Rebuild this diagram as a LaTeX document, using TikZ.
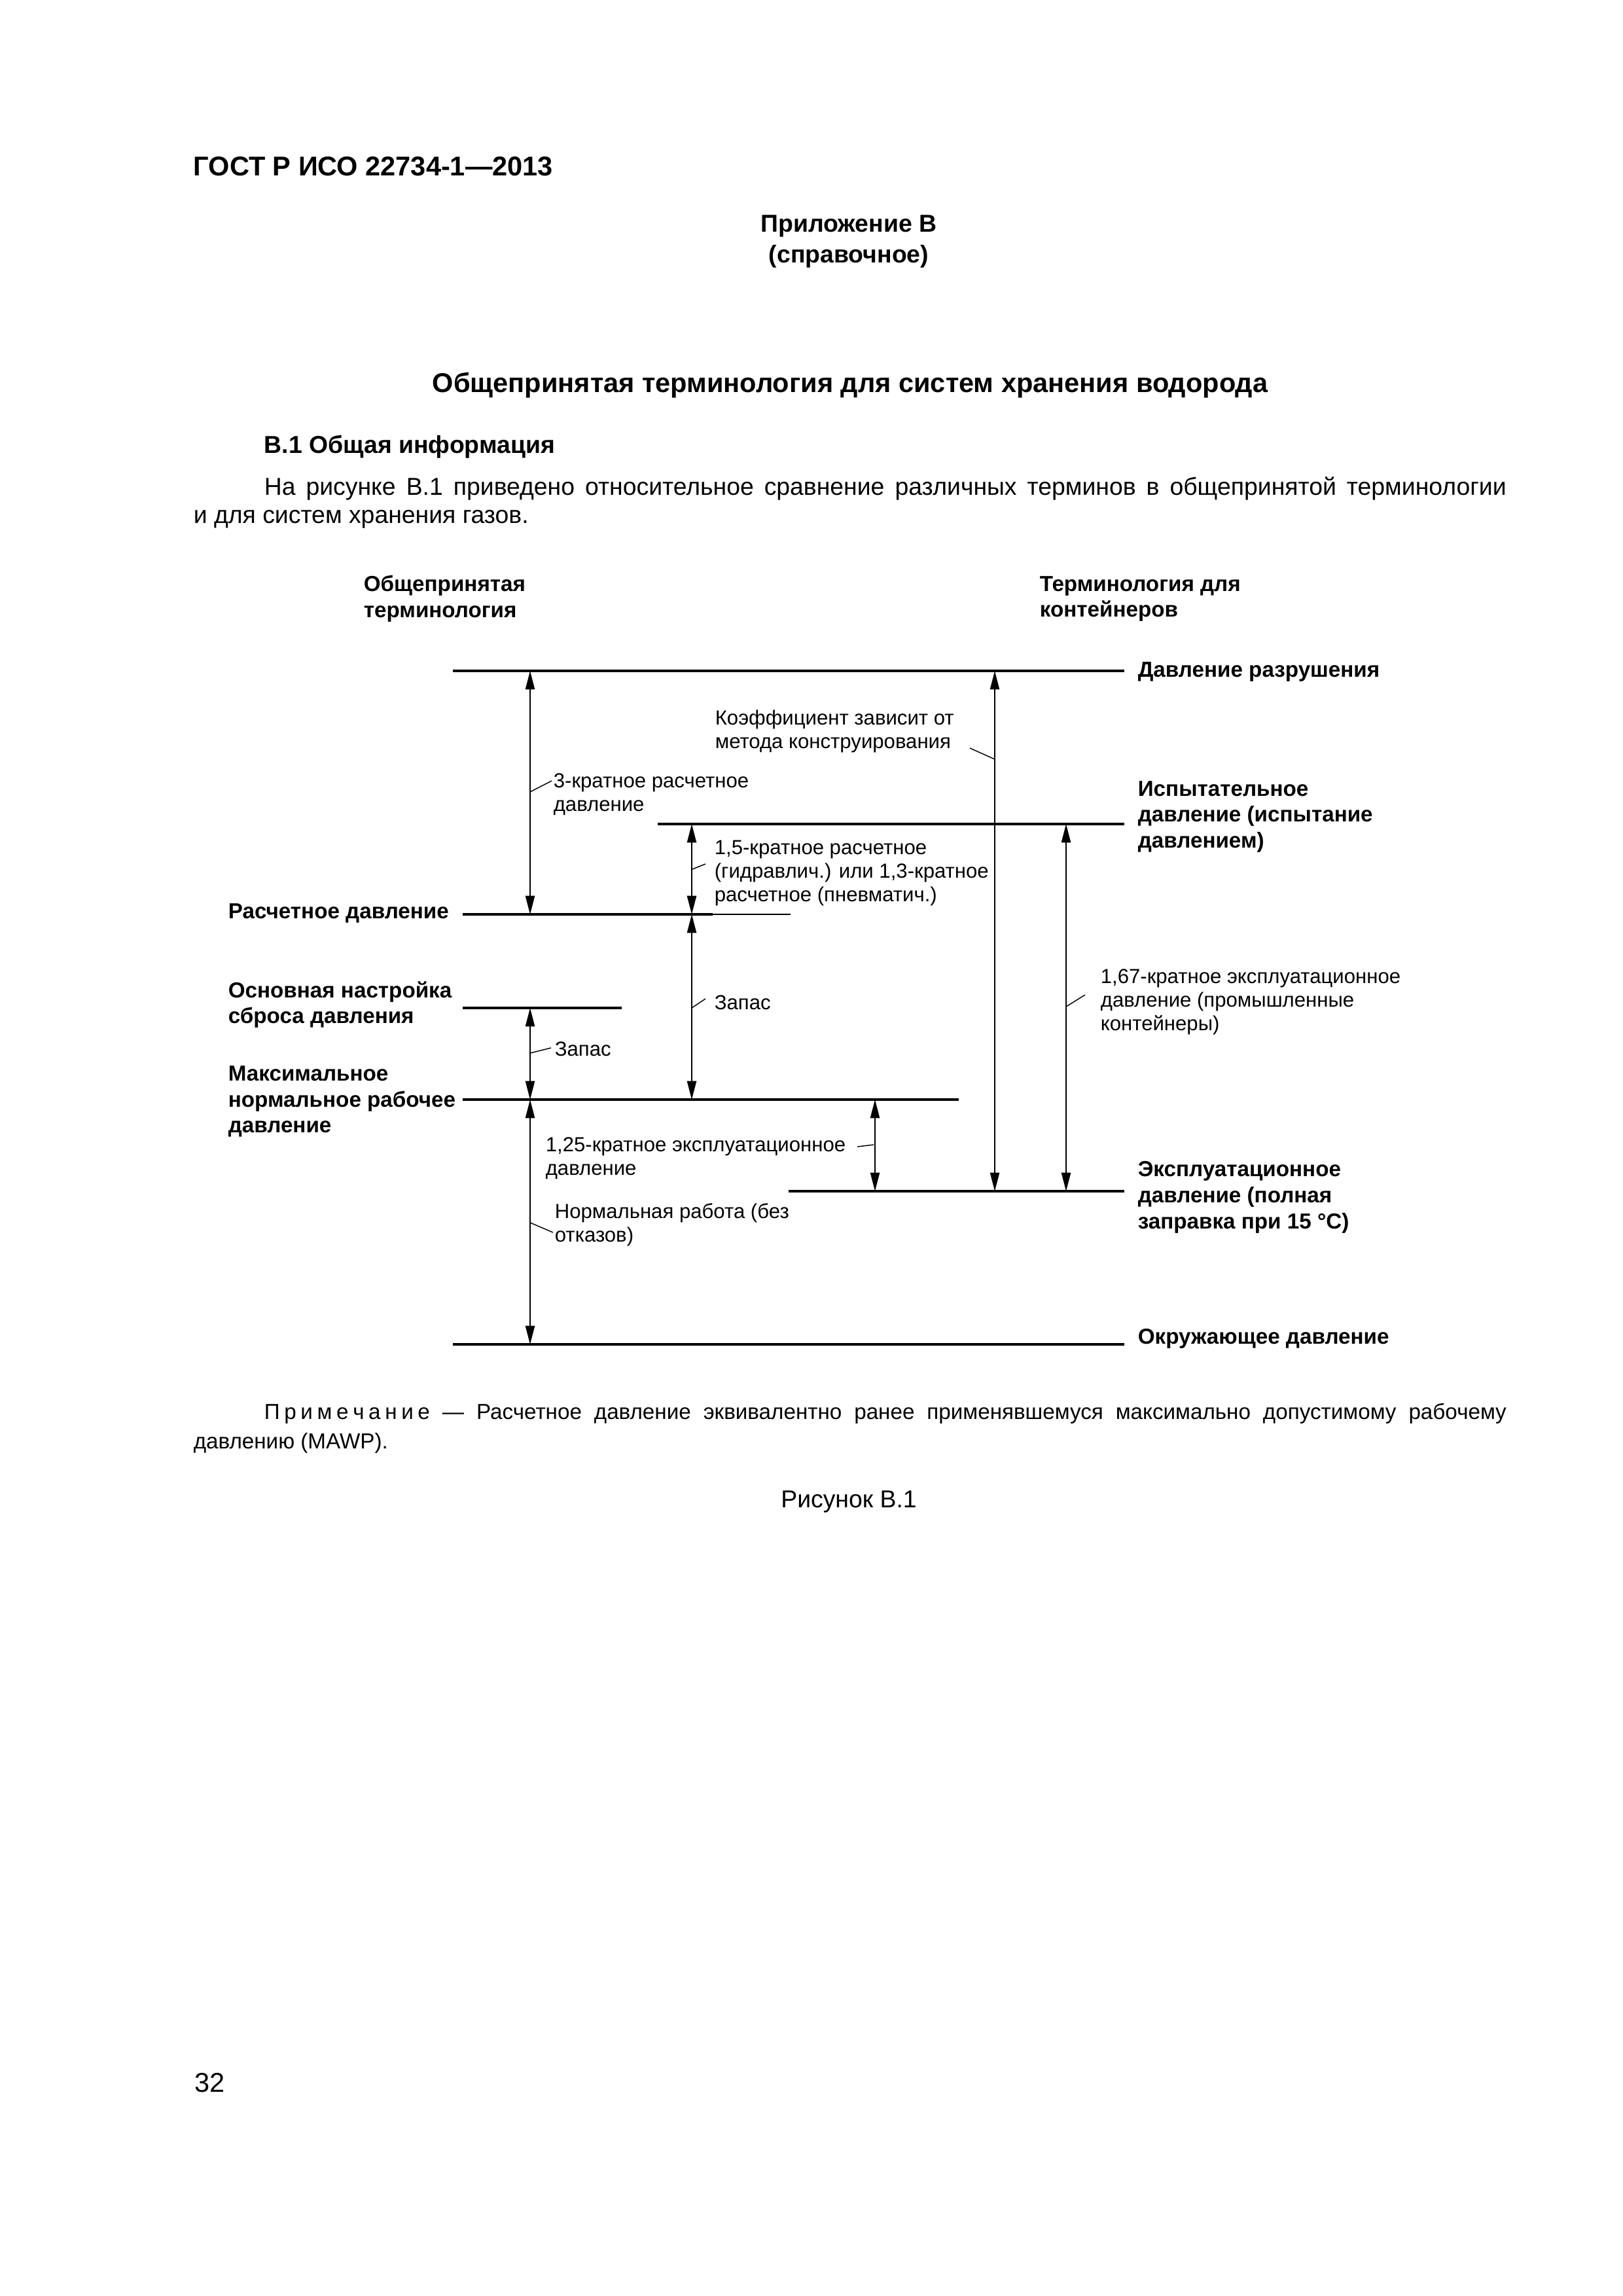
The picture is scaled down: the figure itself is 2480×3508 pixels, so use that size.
\documentclass[tikz,border=0pt]{standalone}
\usepackage{fontspec}
\setmainfont{Liberation Sans}
\usetikzlibrary{arrows.meta}
\newlength{\parawidth}
\setlength{\parawidth}{160.7mm}
\begin{document}
\begin{tikzpicture}[x=0.084677mm,y=-0.084677mm,
  lvl/.style={line width=1.1pt},
  lvlthin/.style={line width=0.6pt},
  dimarrow/.style={line width=0.45pt,{Triangle[length=2.4mm,width=1.2mm]}-{Triangle[length=2.4mm,width=1.2mm]}},
  lead/.style={line width=0.35pt},
  bl/.style={font=\fontsize{8}{9.6}\selectfont\bfseries, align=left, inner sep=0pt, anchor=west},
  sm/.style={font=\fontsize{7.5}{8.7}\selectfont, align=left, inner sep=0pt, anchor=west},
  body/.style={font=\fontsize{9}{11.3}\selectfont, inner sep=0pt},
  bodyb/.style={font=\fontsize{9}{11.3}\selectfont\bfseries, inner sep=0pt},
  ttl/.style={font=\fontsize{10}{12}\selectfont\bfseries, inner sep=0pt},
  notef/.style={font=\fontsize{8}{10}\selectfont, inner sep=0pt, anchor=west}]
\useasboundingbox[fill=white] (0,0) rectangle (2480,3508);

% page texts
\node[ttl, anchor=west] (hdr) at (295,254) {ГОСТ Р ИСО 22734-1—2013};
\node[bodyb, align=center] (app) at (1297,369) {Приложение В\\(справочное)};
\node[ttl] (title) at (1299,589) {Общепринятая терминология для систем хранения водорода};
\node[bodyb, anchor=west] (sec) at (403,683) {В.1 Общая информация};
\node[body, anchor=west] (par1) at (403,747) {\makebox[\parawidth][s]{На рисунке В.1 приведено относительное сравнение различных терминов в общепринятой терминологии}};
\node[body, anchor=west] (par2) at (295,793) {и для систем хранения газов.};

% column headings
\node[bl] (hl) at (555,915) {Общепринятая\\терминология};
\node[bl] (hr) at (1588,915) {Терминология для\\контейнеров};

% level coordinates
\coordinate (l1a) at (692,1025);  \coordinate (l1b) at (1718,1025);
\coordinate (l2a) at (1005,1259); \coordinate (l2b) at (1718,1259);
\coordinate (l3a) at (707,1397);  \coordinate (l3m) at (1089,1397); \coordinate (l3b) at (1208,1397);
\coordinate (l4a) at (707,1540);  \coordinate (l4b) at (950,1540);
\coordinate (l5a) at (707,1680);  \coordinate (l5b) at (1465,1680);
\coordinate (l6a) at (1205,1820); \coordinate (l6b) at (1718,1820);
\coordinate (l7a) at (692,2054);  \coordinate (l7b) at (1718,2054);

\draw[lvl] (l1a) -- (l1b);
\draw[lvl] (l2a) -- (l2b);
\draw[lvl] (l3a) -- (l3m);
\draw[lvlthin] (l3m) -- (l3b);
\draw[lvl] (l4a) -- (l4b);
\draw[lvl] (l5a) -- (l5b);
\draw[lvl] (l6a) -- (l6b);
\draw[lvl] (l7a) -- (l7b);

% level labels
\node[bl] (burst) at (1738,1027) {Давление разрушения};
\node[bl] (test) at (1738,1248) {Испытательное\\давление (испытание\\давлением)};
\node[bl] (design) at (348,1395) {Расчетное давление};
\node[bl] (relief) at (348,1535) {Основная настройка\\сброса давления};
\node[bl] (mnop) at (348,1683) {Максимальное\\нормальное рабочее\\давление};
\node[bl] (service) at (1738,1829) {Эксплуатационное\\давление (полная\\заправка при 15 °C)};
\node[bl] (ambient) at (1738,2045) {Окружающее давление};

% arrow coordinates
\coordinate (a1t) at (810,1025); \coordinate (a1b) at (810,1397);
\coordinate (a2t) at (1057,1259); \coordinate (a2b) at (1057,1397);
\coordinate (a3t) at (1057,1397); \coordinate (a3b) at (1057,1680);
\coordinate (a4t) at (810,1540); \coordinate (a4b) at (810,1680);
\coordinate (a5t) at (810,1680); \coordinate (a5b) at (810,2054);
\coordinate (a6t) at (1337,1680); \coordinate (a6b) at (1337,1820);
\coordinate (a7t) at (1520,1025); \coordinate (a7b) at (1520,1820);
\coordinate (a8t) at (1629,1259); \coordinate (a8b) at (1629,1820);

\draw[dimarrow] (a1t) -- (a1b);
\draw[dimarrow] (a2t) -- (a2b);
\draw[dimarrow] (a3t) -- (a3b);
\draw[dimarrow] (a4t) -- (a4b);
\draw[dimarrow] (a5t) -- (a5b);
\draw[dimarrow] (a6t) -- (a6b);
\draw[dimarrow] (a7t) -- (a7b);
\draw[dimarrow] (a8t) -- (a8b);

% small labels and leaders
\node[sm] (lab3x) at (845,1214) {3-кратное расчетное\\давление};
\coordinate (p1a) at (810,1210); \coordinate (p1b) at (843,1193);
\draw[lead] (p1a) -- (p1b);

\node[sm] (labkoef) at (1092,1117) {Коэффициент зависит от\\метода конструирования};
\coordinate (p2a) at (1482,1143); \coordinate (p2b) at (1520,1160);
\draw[lead] (p2a) -- (p2b);

\node[sm] (lab15) at (1091,1334) {1,5-кратное расчетное\\(гидравлич.) или 1,3-кратное\\расчетное (пневматич.)};
\coordinate (p3a) at (1058,1328); \coordinate (p3b) at (1078,1320);
\draw[lead] (p3a) -- (p3b);

\node[sm] (labzap1) at (1091,1532) {Запас};
\coordinate (p4a) at (1057,1540); \coordinate (p4b) at (1078,1526);
\draw[lead] (p4a) -- (p4b);

\node[sm] (labzap2) at (847,1603) {Запас};
\coordinate (p5a) at (810,1609); \coordinate (p5b) at (842,1601);
\draw[lead] (p5a) -- (p5b);

\node[sm] (lab167) at (1681,1531) {1,67-кратное эксплуатационное\\давление (промышленные\\контейнеры)};
\coordinate (p6a) at (1629,1538); \coordinate (p6b) at (1658,1520);
\draw[lead] (p6a) -- (p6b);

\node[sm] (lab125) at (833,1770) {1,25-кратное эксплуатационное\\давление};
\coordinate (p7a) at (1310,1752); \coordinate (p7b) at (1335,1749);
\draw[lead] (p7a) -- (p7b);

\node[sm] (labnorm) at (847,1871) {Нормальная работа (без\\отказов)};
\coordinate (p8a) at (810,1868); \coordinate (p8b) at (845,1883);
\draw[lead] (p8a) -- (p8b);

% note and caption
\node[notef] (note1) at (403,2160) {\makebox[\parawidth][s]{П\kern1.6pt р\kern1.6pt и\kern1.6pt м\kern1.6pt е\kern1.6pt ч\kern1.6pt а\kern1.6pt н\kern1.6pt и\kern1.6pt е — Расчетное давление эквивалентно ранее применявшемуся максимально допустимому рабочему}};
\node[notef] (note2) at (295,2205) {давлению (MAWP).};
\node[body] (fig) at (1297,2294) {Рисунок В.1};
\node[font=\fontsize{10}{12}\selectfont, inner sep=0pt, anchor=west] (page) at (297,3182) {32};
\end{tikzpicture}
\end{document}
